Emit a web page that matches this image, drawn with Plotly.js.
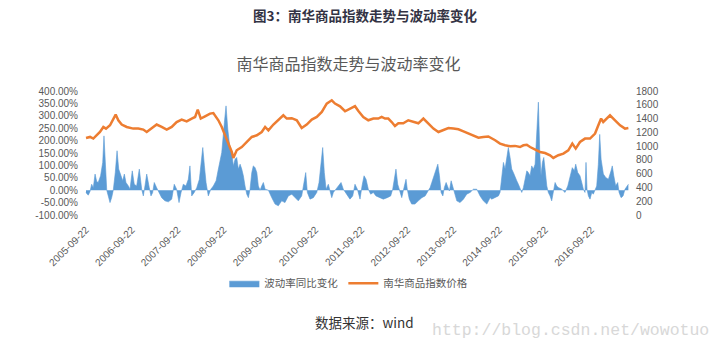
<!DOCTYPE html>
<html>
<head>
<meta charset="utf-8">
<script src="https://cdn.plot.ly/plotly-3.0.1.min.js"></script>
<style>
html,body{margin:0;padding:0;background:#fff;}
#chart{width:714px;height:352px;}
</style>
</head>
<body>
<div id="chart"></div>
<script>
// ---- Data ----
const seriesNames = ["波动率同比变化", "南华商品指数价格"];

const priceDates = [
"2005-09-22","2005-10-24","2005-11-19","2005-12-16","2006-01-11","2006-02-07","2006-02-28","2006-04-01","2006-04-27","2006-05-16",
"2006-06-06","2006-07-03","2006-08-12","2006-10-03","2006-11-12","2006-12-22","2007-01-18","2007-02-26","2007-04-07","2007-05-17",
"2007-06-26","2007-08-05","2007-09-13","2007-10-23","2007-12-02","2008-01-11","2008-02-07","2008-02-28","2008-03-23","2008-04-26",
"2008-06-05","2008-07-01","2008-07-28","2008-08-10","2008-09-06","2008-10-02","2008-10-29","2008-11-25","2008-12-07","2009-01-03",
"2009-02-12","2009-03-24","2009-05-03","2009-06-12","2009-07-21","2009-08-17","2009-09-12","2009-10-22","2009-11-30","2010-01-09",
"2010-02-05","2010-03-17","2010-04-26","2010-06-04","2010-07-14","2010-08-23","2010-10-02","2010-11-11","2010-12-20","2011-01-29",
"2011-02-24","2011-04-05","2011-05-15","2011-06-23","2011-08-02","2011-08-29","2011-10-07","2011-11-16","2011-12-26","2012-02-03",
"2012-03-01","2012-03-28","2012-04-23","2012-05-20","2012-06-15","2012-07-12","2012-08-20","2012-09-29","2012-11-08","2012-12-18",
"2013-01-27","2013-03-08","2013-04-17","2013-05-27","2013-07-05","2013-08-14","2013-09-23","2013-11-02","2013-12-12","2014-01-20",
"2014-03-01","2014-04-10","2014-05-19","2014-06-28","2014-08-21","2014-09-29","2014-11-08","2014-12-18","2015-01-26","2015-03-07",
"2015-04-03","2015-04-30","2015-05-26","2015-06-21","2015-07-18","2015-08-13","2015-09-22","2015-11-01","2015-11-27","2016-01-06",
"2016-02-15","2016-03-25","2016-04-26","2016-05-23","2016-06-26","2016-08-05","2016-09-14","2016-10-24","2016-11-19","2016-12-11",
"2016-12-28","2017-01-25","2017-02-20","2017-04-01","2017-05-11","2017-06-19","2017-07-16"
];
const priceValues = [
1118,1133,1109,1157,1205,1278,1254,1302,1400,1458,
1375,1313,1278,1254,1254,1240,1205,1254,1313,1278,
1240,1278,1350,1385,1360,1400,1423,1530,1400,1433,
1472,1480,1420,1375,1278,1157,1012,915,828,939,
987,1060,1133,1157,1205,1278,1229,1313,1375,1448,
1400,1405,1375,1263,1313,1385,1423,1496,1617,1665,
1617,1578,1506,1540,1580,1510,1423,1375,1400,1400,
1423,1400,1400,1350,1292,1331,1331,1375,1350,1331,
1400,1331,1254,1205,1229,1263,1254,1244,1215,1182,
1157,1123,1133,1140,1085,1037,1012,998,1003,987,
1012,1020,987,964,939,915,900,867,828,867,
891,939,1037,964,1060,1109,1109,1182,1302,1400,
1350,1400,1448,1375,1302,1254,1263
];

const volDates = [
"2005-09-22","2005-10-10","2005-10-24","2005-11-06","2005-11-19","2005-12-03","2005-12-16","2005-12-28","2006-01-16","2006-02-02",
"2006-02-12","2006-02-23","2006-03-06","2006-03-18","2006-04-01","2006-04-14","2006-04-27","2006-05-13","2006-05-27","2006-06-09",
"2006-06-25","2006-07-11","2006-07-24","2006-08-06","2006-08-25","2006-09-07","2006-09-25","2006-10-11","2006-10-30","2006-11-20",
"2006-12-09","2006-12-22","2007-01-04","2007-01-18","2007-02-07","2007-02-21","2007-03-06","2007-03-19","2007-04-07","2007-04-26",
"2007-05-17","2007-06-12","2007-07-09","2007-08-05","2007-08-25","2007-09-13","2007-10-02","2007-10-18","2007-11-05","2007-11-26",
"2007-12-15","2007-12-28","2008-01-11","2008-01-30","2008-02-20","2008-03-12","2008-03-31","2008-04-08","2008-04-21","2008-05-04",
"2008-05-22","2008-06-11","2008-07-01","2008-07-23","2008-08-10","2008-09-06","2008-09-27","2008-10-10","2008-10-24","2008-11-11",
"2008-11-25","2008-12-07","2008-12-21","2009-01-03","2009-01-16","2009-01-30","2009-02-12","2009-02-25","2009-03-10","2009-03-24",
"2009-04-06","2009-04-19","2009-05-03","2009-05-15","2009-05-29","2009-06-12","2009-06-24","2009-07-08","2009-07-21","2009-08-03",
"2009-08-17","2009-09-12","2009-10-09","2009-11-04","2009-11-30","2009-12-27","2010-01-22","2010-02-18","2010-03-17","2010-04-12",
"2010-05-08","2010-06-04","2010-06-25","2010-07-06","2010-07-19","2010-08-09","2010-09-05","2010-10-02","2010-10-20","2010-11-05",
"2010-11-18","2010-12-01","2010-12-15","2011-01-02","2011-01-15","2011-01-29","2011-02-11","2011-03-02","2011-03-22","2011-04-13",
"2011-05-01","2011-05-28","2011-06-23","2011-07-15","2011-08-02","2011-08-21","2011-09-11","2011-09-27","2011-10-13","2011-10-29",
"2011-11-16","2011-12-05","2011-12-26","2012-01-16","2012-02-11","2012-03-14","2012-04-15","2012-05-12","2012-05-28","2012-06-13",
"2012-06-23","2012-07-07","2012-07-25","2012-08-08","2012-08-26","2012-09-11","2012-09-21","2012-10-07","2012-10-26","2012-11-21",
"2012-12-18","2013-01-15","2013-02-10","2013-02-28","2013-03-22","2013-04-04","2013-04-22","2013-05-08","2013-05-22","2013-06-04",
"2013-06-17","2013-07-01","2013-07-13","2013-07-27","2013-08-09","2013-08-22","2013-09-05","2013-09-18","2013-10-01","2013-10-20",
"2013-11-15","2013-12-12","2014-01-07","2014-02-03","2014-03-01","2014-03-28","2014-04-23","2014-05-19","2014-06-16","2014-07-12",
"2014-07-25","2014-08-21","2014-09-16","2014-09-29","2014-10-13","2014-10-26","2014-11-08","2014-11-22","2014-12-04","2014-12-18",
"2014-12-31","2015-01-13","2015-01-26","2015-02-09","2015-02-22","2015-03-07","2015-03-21","2015-04-03","2015-04-16","2015-04-30",
"2015-05-12","2015-05-26","2015-06-08","2015-06-21","2015-07-05","2015-07-18","2015-07-31","2015-08-11","2015-08-21","2015-09-01",
"2015-09-12","2015-09-22","2015-10-06","2015-10-18","2015-11-01","2015-11-14","2015-11-27","2015-12-11","2015-12-24","2016-01-06",
"2016-02-02","2016-02-28","2016-03-21","2016-04-08","2016-04-26","2016-05-12","2016-05-23","2016-06-08","2016-06-26","2016-07-10",
"2016-07-23","2016-08-05","2016-08-13","2016-08-21","2016-09-01","2016-09-14","2016-09-28","2016-10-10","2016-10-24","2016-11-06",
"2016-11-19","2016-11-30","2016-12-11","2016-12-29","2017-01-17","2017-02-07","2017-02-28","2017-03-10","2017-03-22","2017-04-06",
"2017-04-22","2017-05-03","2017-05-19","2017-06-04","2017-06-19","2017-07-03","2017-07-16"
];
const volValues = [
-10,-20,-5,24,10,65,35,31,58,112,
219,85,0,-23,-50,-30,0,71,159,85,
58,38,65,31,17,4,78,24,17,85,
4,-23,17,65,11,-23,-10,31,10,-9,
-30,-43,-47,-36,24,4,-50,-10,24,17,
44,98,-23,-10,10,44,125,172,98,31,
-23,4,17,38,85,152,273,340,246,165,
152,98,125,132,85,105,85,58,17,-16,
-30,4,71,98,91,71,17,0,17,31,
4,0,-30,-56,-63,-43,-50,-23,-16,-30,
-43,-23,31,71,-9,-36,-30,-9,31,98,
172,71,4,24,-9,-30,-9,4,17,31,
4,-16,-36,-23,24,4,-36,17,58,44,
4,-16,-9,-23,-30,-36,-30,-23,4,58,
85,24,-9,-30,11,44,4,-36,-56,-56,
-43,-30,-23,-9,11,31,58,85,105,58,
-9,-23,11,31,11,-3,38,11,-9,-43,
-50,-36,-16,-9,4,4,-23,-43,-56,-30,
-36,-30,-23,-9,71,112,85,125,172,132,
85,71,58,38,24,11,-9,11,44,78,
71,58,98,85,105,219,355,152,58,112,
132,85,17,-9,-23,-43,-9,31,17,11,
4,-9,17,58,91,78,105,71,58,31,
4,-9,112,4,-23,-36,-9,-16,4,17,
105,225,125,65,51,44,78,98,58,17,
31,-9,-30,-23,4,17,24
];

const leftTicks = [-100,-50,0,50,100,150,200,250,300,350,400];
const leftTickText = leftTicks.map(v => v.toFixed(2) + "%");
const rightTicks = [0,200,400,600,800,1000,1200,1400,1600,1800];

// ---- Chart ----
const gray = "#595959";
const baseFont = "Liberation Sans, Noto Sans CJK SC, sans-serif";

const traces = [
  {
    x: volDates, y: volValues, name: seriesNames[0],
    type: "scatter", mode: "lines", fill: "tozeroy",
    line: {color: "#5B9BD5", width: 0.6},
    fillcolor: "#5B9BD5",
    yaxis: "y"
  },
  {
    x: priceDates, y: priceValues, name: seriesNames[1],
    type: "scatter", mode: "lines",
    line: {color: "#ED7D31", width: 2.5},
    yaxis: "y2"
  }
];

const layout = {
  width: 714, height: 352,
  paper_bgcolor: "#ffffff", plot_bgcolor: "#ffffff",
  font: {family: baseFont, color: gray, size: 10},
  margin: {l: 85, r: 85, t: 91, b: 137},
  showlegend: true,
  title: {
    text: "南华商品指数走势与波动率变化",
    font: {family: "Noto Sans CJK SC, sans-serif", size: 16, color: gray},
    x: 0.488, xanchor: "center", y: 0.818, yanchor: "middle"
  },
  xaxis: {
    type: "date",
    range: ["2005-09-14", "2017-07-21"],
    tick0: "2005-09-22", dtick: "M12",
    tickformat: "%Y-%m-%d",
    tickangle: -45,
    ticks: "", showgrid: false, zeroline: false, showline: false,
    tickfont: {size: 10, color: gray},
    ticklabelstandoff: 6
  },
  yaxis: {
    range: [-100, 400],
    tickmode: "array",
    tickvals: leftTicks,
    ticktext: leftTickText,
    showgrid: false, zeroline: false, showline: false, ticks: "",
    tickfont: {size: 10, color: gray},
    ticklabelstandoff: 6
  },
  yaxis2: {
    range: [0, 1800],
    tickmode: "array",
    tickvals: rightTicks,
    ticktext: rightTicks.map(String),
    overlaying: "y", side: "right",
    showgrid: false, zeroline: false, showline: false, ticks: "",
    tickfont: {size: 10, color: gray},
    ticklabelstandoff: 6
  },
  legend: {
    orientation: "h", x: 0.485, xanchor: "center",
    y: -0.55, yanchor: "middle",
    font: {family: "Noto Sans CJK SC, sans-serif", size: 10.5, color: gray},
    itemwidth: 30, tracegroupgap: 0
  },
  annotations: [
    {
      text: "<b>图3：南华商品指数走势与波动率变化</b>",
      xref: "paper", yref: "paper", x: 0.514, y: 1.615, xanchor: "center", yanchor: "middle",
      showarrow: false,
      font: {family: "Noto Sans CJK SC, sans-serif", size: 13.5, color: "#333344"}
    },
    {
      text: "数据来源：wind",
      xref: "paper", yref: "paper", x: 0.513, y: -0.865, xanchor: "center", yanchor: "middle",
      showarrow: false,
      font: {family: "Noto Sans CJK SC, sans-serif", size: 13.5, color: "#333333"}
    },
    {
      text: "http://blog.csdn.net/wowotuo",
      xref: "paper", yref: "paper", x: 1.15, y: -0.93, xanchor: "right", yanchor: "middle",
      showarrow: false,
      font: {family: "Liberation Mono, DejaVu Sans Mono, monospace", size: 16.5, color: "#d8d8d8"}
    }
  ]
};

Plotly.newPlot("chart", traces, layout, {displayModeBar: false, staticPlot: true});
</script>
</body>
</html>
